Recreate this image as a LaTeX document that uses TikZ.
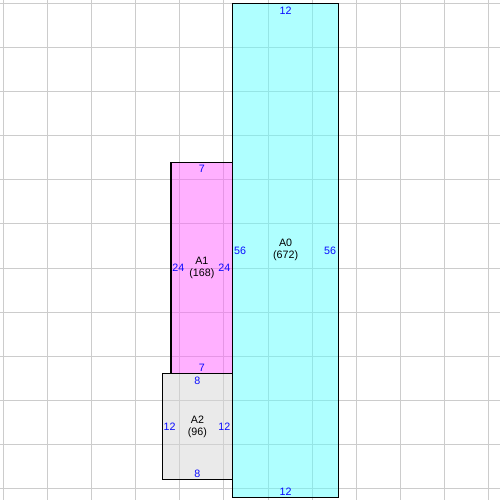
\documentclass[tikz,border=0pt]{standalone}
\usepackage{fontspec}
\setmainfont{Liberation Sans}
\usetikzlibrary{fit}
\definecolor{gridc}{RGB}{204,204,204}
\definecolor{cyanf}{RGB}{95,255,255}
\definecolor{pinkf}{RGB}{255,97,255}
\definecolor{grayf}{RGB}{213,213,213}
\definecolor{lblblue}{RGB}{10,10,255}
\tikzset{
  gridline/.style={draw=gridc, line width=1pt},
  areafill/.style={fill opacity=0.5},
  areabox/.style={draw=black, line width=1.1pt, inner sep=0pt, outer sep=0pt},
  lbl/.style={text=lblblue, inner sep=0pt, font=\fontsize{10.7}{12}\selectfont},
  namelbl/.style={text=black, inner sep=0pt, align=center, font=\fontsize{10.7}{12}\selectfont}
}
\begin{document}
\begin{tikzpicture}[x=8.82pt, y=-8.82pt]
\useasboundingbox (-0.3855,-0.3855) rectangle (56.304,56.304);
% grid
\foreach \k in {0,...,11} {
  \draw[gridline] (5*\k,-0.3855) -- (5*\k,56.304);
  \draw[gridline] (-0.3855,5*\k) -- (56.304,5*\k);
}
% translucent fills over the grid
\fill[cyanf, areafill] (26,0) rectangle (38,56);
\fill[pinkf, areafill] (19,18) rectangle (26,42);
\fill[grayf, areafill] (18,42) rectangle (26,54);
% outlines
\node[areabox, fit={(19,18) (26,42)}] (A1) {};
\node[areabox, fit={(18,42) (26,54)}] (A2) {};
\node[areabox, fit={(26,0) (38,56)}] (A0) {};
% A0 labels
\node[namelbl] (A0n) at (A0.center) {A0\\(672)};
\node[lbl, yshift=-7pt] (A0t) at (A0.north) {12};
\node[lbl, yshift=6pt] (A0b) at (A0.south) {12};
\node[lbl, anchor=west, xshift=1.2pt] (A0l) at (A0.west) {56};
\node[lbl, anchor=east, xshift=-2.3pt] (A0r) at (A0.east) {56};
% A1 labels
\node[namelbl] (A1n) at (A1.center) {A1\\(168)};
\node[lbl, yshift=-7pt] (A1t) at (A1.north) {7};
\node[lbl, yshift=6pt] (A1b) at (A1.south) {7};
\node[lbl, anchor=west, xshift=1.2pt] (A1l) at (A1.west) {24};
\node[lbl, anchor=east, xshift=-2.3pt] (A1r) at (A1.east) {24};
% A2 labels
\node[namelbl] (A2n) at (A2.center) {A2\\(96)};
\node[lbl, yshift=-7pt] (A2t) at (A2.north) {8};
\node[lbl, yshift=6pt] (A2b) at (A2.south) {8};
\node[lbl, anchor=west, xshift=1.2pt] (A2l) at (A2.west) {12};
\node[lbl, anchor=east, xshift=-2.3pt] (A2r) at (A2.east) {12};
\end{tikzpicture}
\end{document}
